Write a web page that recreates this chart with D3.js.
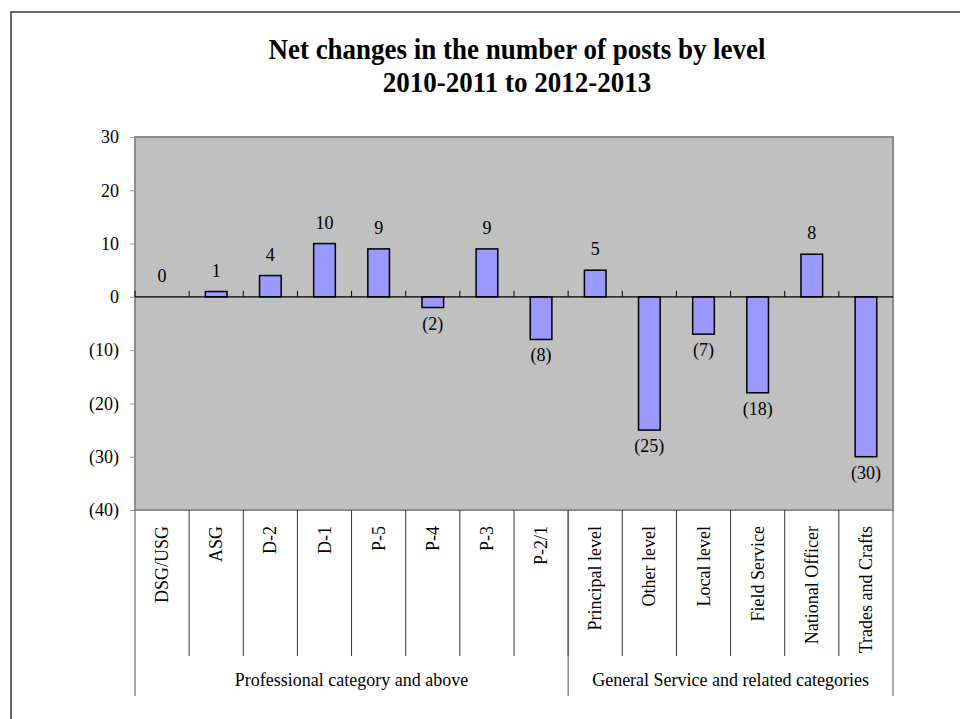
<!DOCTYPE html>
<html>
<head>
<meta charset="utf-8">
<script src="https://cdn.jsdelivr.net/npm/d3@7"></script>
<style>
  body { margin: 0; background: #fff; }
  svg { display: block; font-family: "Liberation Serif", "Times New Roman", serif; }
</style>
</head>
<body>
<div class="chart"></div>
<script>
// data
const categories = ["DSG/USG", "ASG", "D-2", "D-1", "P-5", "P-4", "P-3", "P-2/1",
  "Principal level", "Other level", "Local level", "Field Service", "National Officer", "Trades and Crafts"];
const values = [0, 1, 4, 10, 9, -2, 9, -8, 5, -25, -7, -18, 8, -30];
const groups = ["Professional category and above", "General Service and related categories"];
const groupSizes = [8, 6];
const yTicks = [30, 20, 10, 0, -10, -20, -30, -40];
const titleLines = ["Net changes in the number of posts by level", "2010-2011 to 2012-2013"];

const drawChart = () => {
  var width = 960, height = 719;
  var plotLeft = 135, plotRight = 893, plotTop = 137, plotBottom = 510;

  var svg = d3.select(".chart").append("svg")
    .attr("width", width)
    .attr("height", height);

  // outer frame
  svg.append("rect")
    .attr("x", 11).attr("y", 12)
    .attr("width", 1000).attr("height", 800)
    .attr("fill", "none")
    .attr("stroke", "#333")
    .attr("stroke-width", 1.5);

  // title
  svg.selectAll(".title")
    .data(titleLines)
    .enter()
    .append("text")
    .attr("class", "title")
    .attr("transform", (d, i) => "translate(517," + (59 + i * 33) + ") scale(0.9,1)")
    .attr("text-anchor", "middle")
    .style("font-size", "30px")
    .style("font-weight", "bold")
    .text(d => d);

  var x = d3.scaleBand().domain(categories).range([plotLeft, plotRight]).paddingInner(0).paddingOuter(0);
  var y = d3.scaleLinear().domain([-40, 30]).range([plotBottom, plotTop]);

  // plot area
  svg.append("rect")
    .attr("x", plotLeft).attr("y", plotTop)
    .attr("width", plotRight - plotLeft).attr("height", plotBottom - plotTop)
    .attr("fill", "#c0c0c0")
    .attr("stroke", "#8c8c8c")
    .attr("stroke-width", 2);

  // y axis ticks + labels
  var fmt = v => v < 0 ? "(" + Math.abs(v) + ")" : String(v);
  var yAxis = svg.append("g").attr("transform", "translate(" + plotLeft + ",0)")
    .call(d3.axisLeft(y).tickValues(yTicks).tickSize(5).tickPadding(11).tickFormat(fmt));
  yAxis.select(".domain").remove();
  yAxis.selectAll("line").attr("stroke", "#999");
  yAxis.selectAll("text")
    .attr("fill", "#000")
    .style("font-size", "18px")
    .style("font-family", "Liberation Serif, serif");

  // bars
  var bw = x.bandwidth() / 2.5;
  svg.selectAll(".bar")
    .data(values)
    .enter()
    .append("rect")
    .attr("class", "bar")
    .attr("x", (d, i) => x(categories[i]) + (x.bandwidth() - bw) / 2)
    .attr("y", d => y(Math.max(0, d)))
    .attr("width", bw)
    .attr("height", d => Math.abs(y(d) - y(0)))
    .attr("fill", "#9999ff")
    .attr("stroke", "#000")
    .attr("stroke-width", 1.5);

  // zero line with category ticks
  svg.append("line")
    .attr("x1", plotLeft).attr("x2", plotRight)
    .attr("y1", y(0)).attr("y2", y(0))
    .attr("stroke", "#000").attr("stroke-width", 1.2);
  svg.selectAll(".ztick")
    .data(categories)
    .enter()
    .append("line")
    .attr("x1", d => x(d)).attr("x2", d => x(d))
    .attr("y1", y(0) - 6).attr("y2", y(0))
    .attr("stroke", "#000");

  // data labels
  svg.selectAll(".lbl")
    .data(values)
    .enter()
    .append("text")
    .attr("x", (d, i) => x(categories[i]) + x.bandwidth() / 2)
    .attr("y", d => d < 0 ? y(d) + 22 : y(d) - 15)
    .attr("text-anchor", "middle")
    .style("font-size", "18px")
    .text(fmt);

  // category table below the plot
  svg.selectAll(".cline")
    .data(categories.slice(1))
    .enter()
    .append("line")
    .attr("x1", d => x(d)).attr("x2", d => x(d))
    .attr("y1", plotBottom).attr("y2", 656)
    .attr("stroke", "#333");

  svg.selectAll(".clabel")
    .data(categories)
    .enter()
    .append("text")
    .attr("transform", d => "translate(" + (x(d) + x.bandwidth() / 2 + 6) + ",526) rotate(-90)")
    .attr("text-anchor", "end")
    .style("font-size", "18px")
    .text(d => d);

  // group boundaries and labels
  var bounds = [0];
  groupSizes.forEach((n, i) => bounds.push(bounds[i] + n));
  var bx = i => i < categories.length ? x(categories[i]) : plotRight;

  svg.selectAll(".gline")
    .data(bounds)
    .enter()
    .append("line")
    .attr("x1", d => bx(d)).attr("x2", d => bx(d))
    .attr("y1", plotBottom).attr("y2", 696)
    .attr("stroke", "#555");

  svg.selectAll(".glabel")
    .data(groups)
    .enter()
    .append("text")
    .attr("x", (d, i) => (bx(bounds[i]) + bx(bounds[i + 1])) / 2)
    .attr("y", 686)
    .attr("text-anchor", "middle")
    .style("font-size", "18px")
    .text(d => d);
};

drawChart();
</script>
</body>
</html>
